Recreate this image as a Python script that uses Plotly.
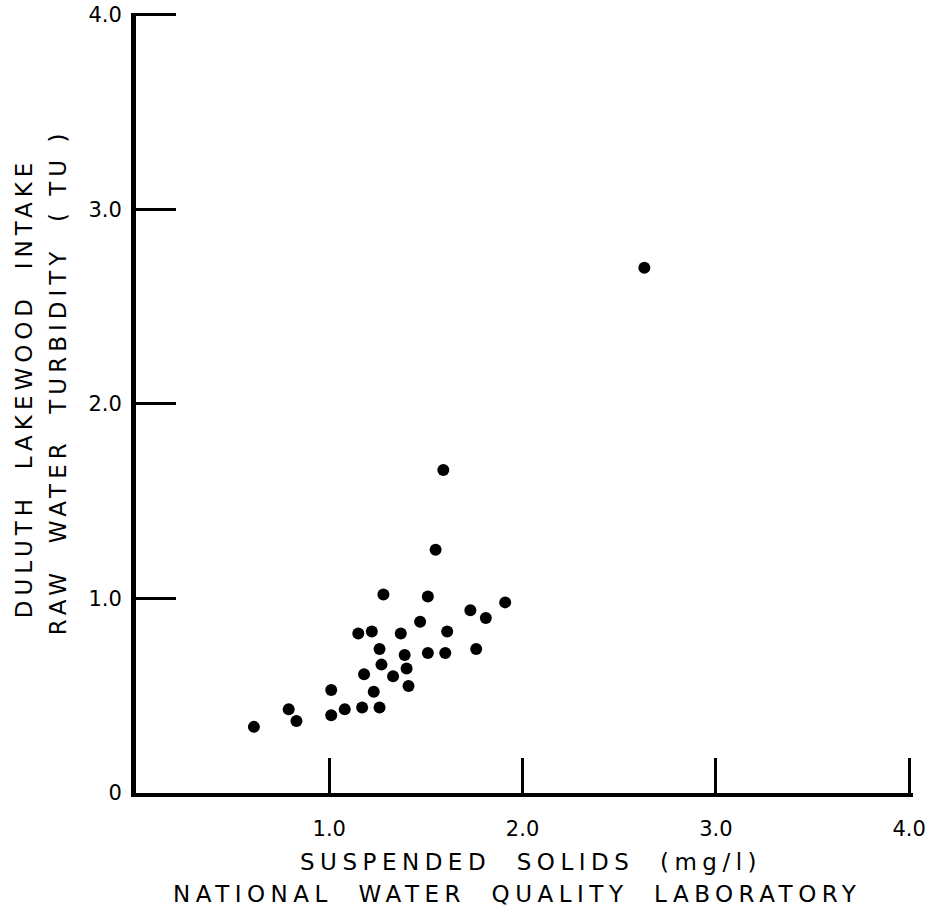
import plotly.graph_objects as go

# Suspended solids (mg/l), National Water Quality Laboratory
solids = [0.61, 0.79, 0.83, 1.01, 1.01, 1.08, 1.15, 1.22, 1.18, 1.17,
          1.23, 1.26, 1.28, 1.26, 1.27, 1.33, 1.37, 1.39, 1.40, 1.41,
          1.47, 1.51, 1.51, 1.61, 1.60, 1.73, 1.76, 1.81, 1.91,
          1.59, 1.55, 2.63]
# Duluth Lakewood intake raw water turbidity (TU)
turbidity = [0.34, 0.43, 0.37, 0.53, 0.40, 0.43, 0.82, 0.83, 0.61, 0.44,
             0.52, 0.44, 1.02, 0.74, 0.66, 0.60, 0.82, 0.71, 0.64, 0.55,
             0.88, 1.01, 0.72, 0.83, 0.72, 0.94, 0.74, 0.90, 0.98,
             1.66, 1.25, 2.70]

x_tickvals = [1, 2, 3, 4]
x_ticktext = ["1.0", "2.0", "3.0", "4.0"]
y_tickvals = [0, 1, 2, 3, 4]
y_ticktext = ["0", "1.0", "2.0", "3.0", "4.0"]

FONT = "DejaVu Sans"
SP = '<span style="letter-spacing:5.5px">{}</span>'
SPY = '<span style="letter-spacing:5px">{}</span>'

fig = go.Figure()
fig.add_trace(go.Scatter(
    x=solids, y=turbidity, mode="markers",
    marker=dict(color="black", size=12, line=dict(width=0)),
    showlegend=False, hoverinfo="x+y",
))

fig.update_layout(
    width=941, height=922, autosize=False,
    margin=dict(l=136, r=28, t=13, b=129, pad=0, autoexpand=False),
    paper_bgcolor="white", plot_bgcolor="white",
    font=dict(family=FONT, color="black", size=21),
    xaxis=dict(
        range=[0, 4.02], showgrid=False, zeroline=False, automargin=False,
        showline=True, linecolor="black", linewidth=4,
        ticks="inside", ticklen=35, tickwidth=2.5, tickcolor="black",
        tickvals=x_tickvals, ticktext=x_ticktext,
        ticklabelstandoff=14, ticklabeloverflow="allow",
        tickfont=dict(family=FONT, size=21),
    ),
    yaxis=dict(
        range=[0, 4.01], showgrid=False, zeroline=False, automargin=False,
        showline=True, linecolor="black", linewidth=5,
        ticks="inside", ticklen=40, tickwidth=2.5, tickcolor="black",
        tickvals=y_tickvals, ticktext=y_ticktext,
        ticklabelstandoff=5, ticklabeloverflow="allow",
        tickfont=dict(family=FONT, size=21),
    ),
    annotations=[
        dict(text=SP.format("SUSPENDED  SOLIDS  (mg/l)"),
             xref="paper", yref="paper", x=0.508, y=-0.088,
             xanchor="center", yanchor="middle", showarrow=False,
             font=dict(family=FONT, size=23)),
        dict(text=SP.format("NATIONAL  WATER  QUALITY  LABORATORY"),
             xref="paper", yref="paper", x=0.490, y=-0.130,
             xanchor="center", yanchor="middle", showarrow=False,
             font=dict(family=FONT, size=23)),
        dict(text=SPY.format("DULUTH  LAKEWOOD  INTAKE"),
             xref="paper", yref="paper", x=-0.143, y=0.520,
             xanchor="center", yanchor="middle", textangle=-90, showarrow=False,
             font=dict(family=FONT, size=23)),
        dict(text=SPY.format("RAW  WATER  TURBIDITY  ( TU )"),
             xref="paper", yref="paper", x=-0.100, y=0.527,
             xanchor="center", yanchor="middle", textangle=-90, showarrow=False,
             font=dict(family=FONT, size=23)),
    ],
)

fig.write_html("out.html", config={"displayModeBar": False},
               post_script="document.body.style.margin='0px';")
